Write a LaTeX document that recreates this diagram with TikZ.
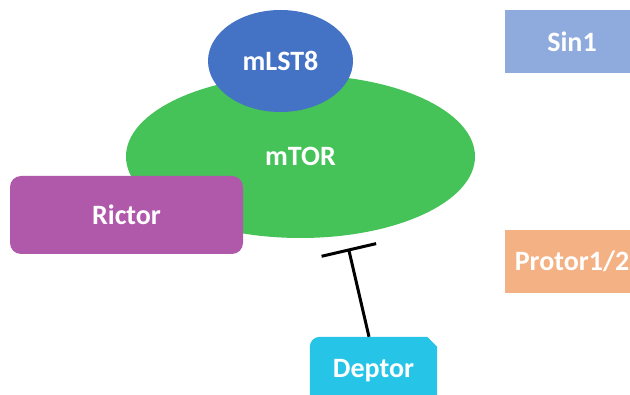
\documentclass[tikz,border=0pt]{standalone}
\usepackage{fontspec}
\setmainfont{Carlito}
\usetikzlibrary{shapes.geometric,arrows.meta}
\pgfdeclarelayer{background}
\pgfsetlayers{background,main}

\definecolor{torgreen}{RGB}{70,195,88}
\definecolor{lstblue}{RGB}{68,114,196}
\definecolor{rictorpurple}{RGB}{176,88,170}
\definecolor{sinblue}{RGB}{143,170,220}
\definecolor{protororange}{RGB}{244,177,131}
\definecolor{deptorcyan}{RGB}{38,196,230}

\tikzset{
  label text/.style={text=white, font=\fontsize{28}{32}\selectfont\bfseries, inner sep=0pt},
  blob/.style={ellipse, label text},
  plate/.style={rectangle, label text},
  inhibit/.style={line width=3pt, -{Bar[width=56pt]}}
}

\begin{document}
\begin{tikzpicture}[x=1pt, y=-1pt]
  \useasboundingbox (0,0) rectangle (630,395);
  \clip (0,0) rectangle (630,395);

  % complex core
  \node[blob, fill=torgreen, minimum width=349pt, minimum height=163pt] (mtor) at (300.5,156.5) {mTOR};
  \node[blob, fill=lstblue, minimum width=145pt, minimum height=102pt] (mlst8) at (280.5,61) {mLST8};
  \node[plate, fill=rictorpurple, rounded corners=11pt, minimum width=233pt, minimum height=78pt] (rictor) at (126.5,215) {Rictor};

  % side components
  \node[plate, fill=sinblue, minimum width=134pt, minimum height=63pt] (sin1) at (572,41.5) {Sin1};
  \node[plate, fill=protororange, minimum width=134pt, minimum height=63pt] (protor) at (572,261.5) {Protor1/2};

  % Deptor tab: rounded top-left, clipped top-right corner
  \node[plate, minimum width=127pt, minimum height=68pt] (deptor) at (373.5,371) {Deptor};
  \begin{pgfonlayer}{background}
    \fill[deptorcyan] (deptor.south west) [rounded corners=10pt] -- (deptor.north west)
      [sharp corners] -- ([xshift=-10pt]deptor.north east) -- ([yshift=-10pt]deptor.north east)
      -- (deptor.south east) -- cycle;
  \end{pgfonlayer}

  % inhibition of mTOR by Deptor
  \coordinate (block) at (348.5,248.5);
  \draw[inhibit] ([xshift=-4.5pt]deptor.north) -- (block);
\end{tikzpicture}
\end{document}
